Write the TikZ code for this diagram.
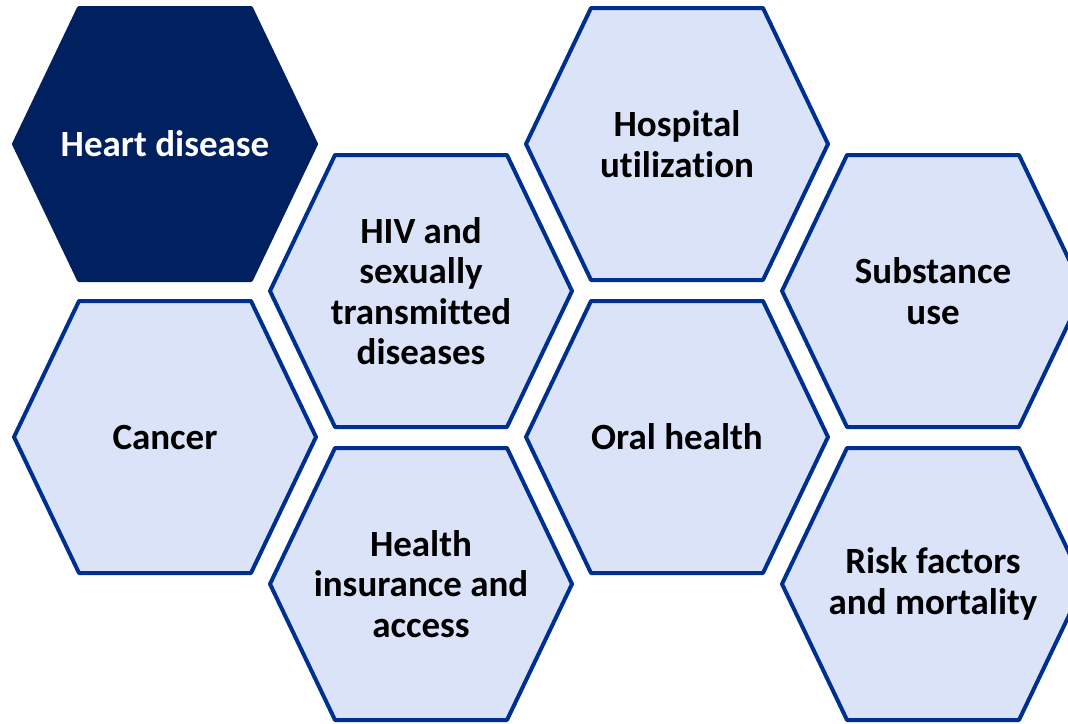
\documentclass[tikz,border=0pt]{standalone}
\usepackage{fontspec}
\setmainfont{Carlito}[Ligatures=NoCommon]
\definecolor{navyfill}{RGB}{0,32,96}
\definecolor{cellfill}{RGB}{218,227,248}
\definecolor{cellline}{RGB}{0,48,143}
\tikzset{cell text/.style={align=center,font=\fontsize{37}{40.5}\selectfont\bfseries}}

\begin{document}
\begin{tikzpicture}[x=1pt,y=-1pt,
    hexcell/.pic={\path[pic actions] (-151,0) -- (-86,-136) -- (86,-136) -- (151,0)
        -- (86,136) -- (-86,136) -- cycle;},
    lightcell/.style={fill=cellfill,draw=cellline,line width=4pt,line join=round},
    darkcell/.style={fill=navyfill,draw=navyfill,line width=4pt,line join=round}]
            \useasboundingbox (0,0) rectangle (1068,723);
            \begin{scope}
            \clip (0,0) rectangle (1068,723);
            % first column
            \pic[darkcell] at (165,144) {hexcell};
            \node[cell text,text=white] (heart) at (165,144) {Heart disease};
            \pic[lightcell] at (165,437) {hexcell};
            \node[cell text] (cancer) at (165,437) {Cancer};

            % second column
            \pic[lightcell] at (421,291) {hexcell};
            \node[cell text] (hiv) at (421,291) {HIV and\\sexually\\transmitted\\diseases};
            \pic[lightcell] at (421,584) {hexcell};
            \node[cell text] (insurance) at (421,584) {Health\\insurance and\\access};

            % third column
            \pic[lightcell] at (677,144) {hexcell};
            \node[cell text] (hospital) at (677,144) {Hospital\\utilization};
            \pic[lightcell] at (677,437) {hexcell};
            \node[cell text] (oral) at (677,437) {Oral health};

            % fourth column
            \pic[lightcell] at (933,291) {hexcell};
            \node[cell text] (substance) at (933,291) {Substance\\use};
            \pic[lightcell] at (933,584) {hexcell};
            \node[cell text] (risk) at (933,584) {Risk factors\\and mortality};
            \end{scope}
        \end{tikzpicture}
\end{document}
